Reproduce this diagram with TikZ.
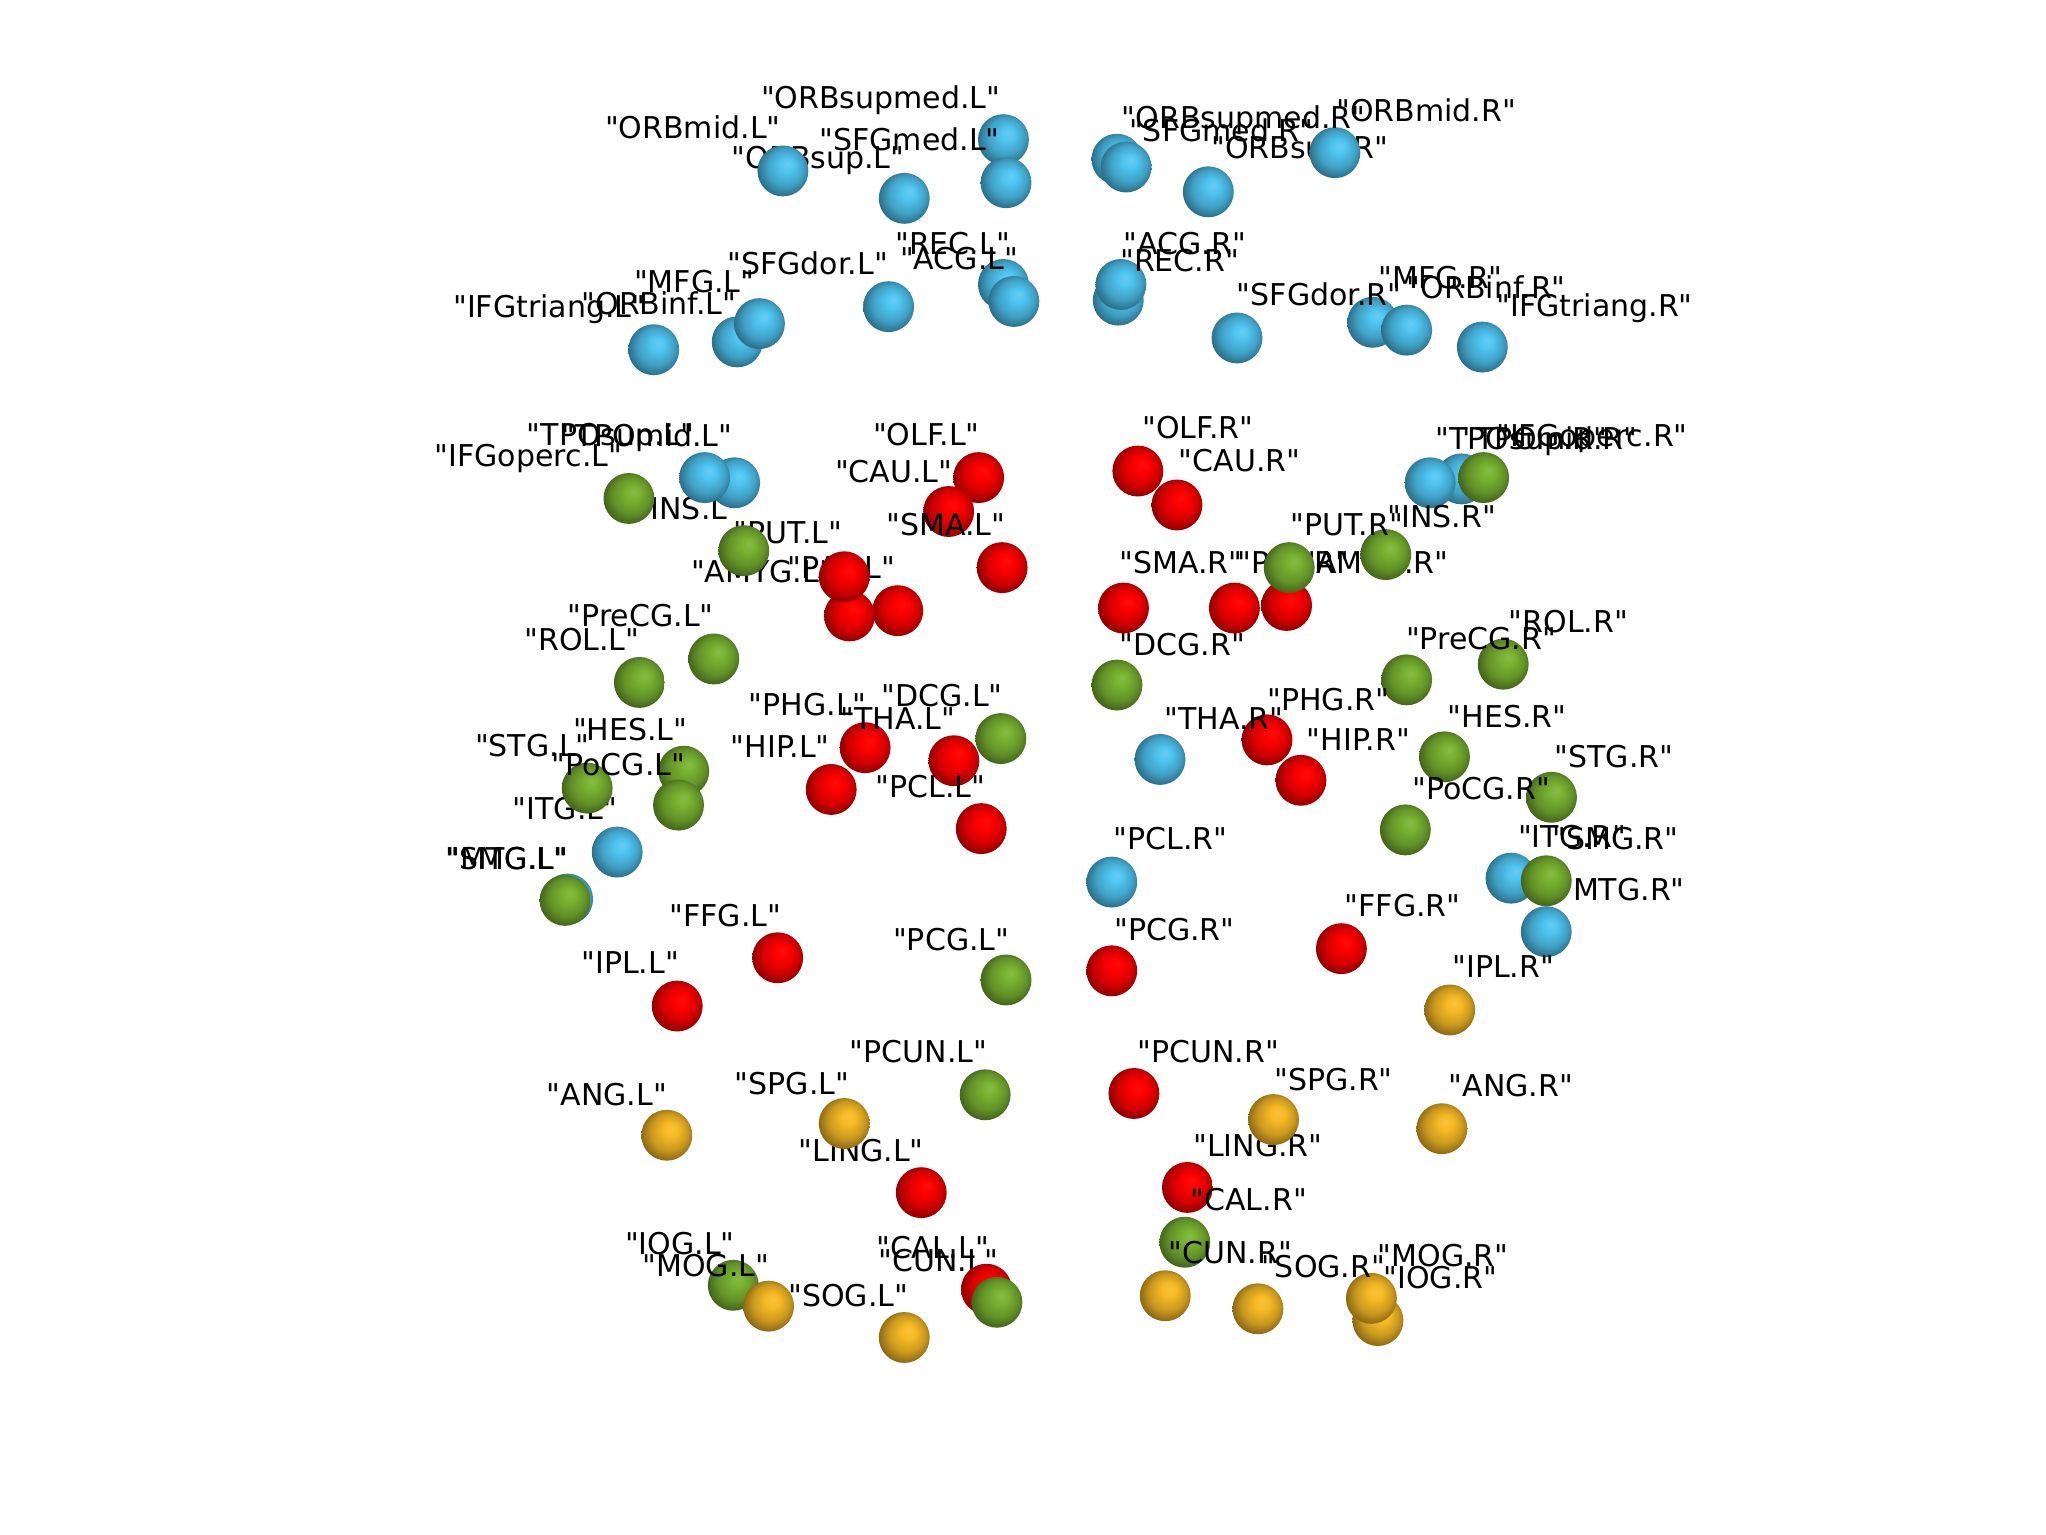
\documentclass[tikz,border=0pt]{standalone}
\usepackage{fontspec}
\newfontfamily\lblfont{DejaVu Sans}
\definecolor{cB}{RGB}{78,196,240}
\definecolor{cR}{RGB}{255,0,0}
\definecolor{cG}{RGB}{120,178,48}
\definecolor{cO}{RGB}{246,186,36}
\pgfdeclareradialshading{sphB}{\pgfpoint{5bp}{7bp}}{color(0bp)=(cB!85!white); color(7bp)=(cB); color(18bp)=(cB!82!black); color(27bp)=(cB!55!black); color(35bp)=(cB!35!black)}
\pgfdeclareradialshading{sphR}{\pgfpoint{5bp}{7bp}}{color(0bp)=(cR!95!white); color(7bp)=(cR); color(18bp)=(cR!82!black); color(27bp)=(cR!55!black); color(35bp)=(cR!35!black)}
\pgfdeclareradialshading{sphG}{\pgfpoint{5bp}{7bp}}{color(0bp)=(cG!88!white); color(7bp)=(cG); color(18bp)=(cG!82!black); color(27bp)=(cG!55!black); color(35bp)=(cG!35!black)}
\pgfdeclareradialshading{sphO}{\pgfpoint{5bp}{7bp}}{color(0bp)=(cO!88!white); color(7bp)=(cO); color(18bp)=(cO!82!black); color(27bp)=(cO!55!black); color(35bp)=(cO!35!black)}
\tikzset{
  ballbase/.style={circle,minimum size=39pt,inner sep=0pt},
  ballB/.style={ballbase,shading=sphB},
  ballR/.style={ballbase,shading=sphR},
  ballG/.style={ballbase,shading=sphG},
  ballO/.style={ballbase,shading=sphO},
  lbl/.style={font=\lblfont\fontsize{23pt}{27pt}\selectfont,inner sep=0pt,text height=16.8pt,text depth=0pt,anchor=center}
}
\begin{document}
\begin{tikzpicture}[x=1pt,y=-1pt]
\useasboundingbox (0,0) rectangle (1568,1176);
\fill[white] (0,0) rectangle (1568,1176);
% labels partly hidden behind spheres
\node[lbl] (ORBsupL) at (627,121) {"ORBsup.L"};
\node[lbl] (ORBsupR) at (996,113) {"ORBsup.R"};
\node[lbl] (INSL) at (528,390) {"INS.L"};
\node[lbl] (PUTL) at (604,408) {"PUT.L"};
\node[lbl] (AMYGL) at (584,438) {"AMYG.L"};
\node[lbl] (PALL) at (645,435) {"PAL.L"};
\node[lbl] (PALR) at (991,431) {"PAL.R"};
\node[lbl] (AMYGR) at (1054,431) {"AMYG.R"};
\node[lbl] (ITGL) at (433,620) {"ITG.L"};
\node[lbl] (MTGR) at (1243,682) {"MTG.R"};
\node[lbl] (LINGL) at (660,882) {"LING.L"};
\node[lbl] (LINGR) at (964,878) {"LING.R"};
\node[lbl] (IOGR) at (1104,979) {"IOG.R"};
\node[lbl] (CUNL) at (719,966) {"CUN.L"};
% spheres
\node[ballB] (s1) at (769,107) {};
\node[ballB] (s2) at (771,140) {};
\node[ballB] (s3) at (600,131) {};
\node[ballB] (s4) at (693,152) {};
\node[ballB] (s5) at (856,122) {};
\node[ballB] (s6) at (863,128) {};
\node[ballB] (s7) at (926,147) {};
\node[ballB] (s8) at (1023,117) {};
\node[ballB] (s9) at (769,218) {};
\node[ballB] (s10) at (777,231) {};
\node[ballB] (s11) at (681,235) {};
\node[ballB] (s12) at (565,262) {};
\node[ballB] (s13) at (582,248) {};
\node[ballB] (s14) at (501,268) {};
\node[ballB] (s15) at (857,230) {};
\node[ballB] (s16) at (859,218) {};
\node[ballB] (s17) at (948,259) {};
\node[ballB] (s18) at (1052,247) {};
\node[ballB] (s19) at (1078,253) {};
\node[ballB] (s20) at (1136,266) {};
\node[ballB] (s21) at (563,370) {};
\node[ballB] (s22) at (540,366) {};
\node[ballB] (s23) at (1120,367) {};
\node[ballB] (s24) at (1096,370) {};
\node[ballG] (s25) at (1137,366) {};
\node[ballG] (s26) at (482,382) {};
\node[ballG] (s27) at (570,422) {};
\node[ballR] (s28) at (750,366) {};
\node[ballR] (s29) at (727,392) {};
\node[ballR] (s30) at (768,435) {};
\node[ballR] (s31) at (688,468) {};
\node[ballR] (s32) at (651,472) {};
\node[ballR] (s33) at (647,442) {};
\node[ballR] (s34) at (872,361) {};
\node[ballR] (s35) at (902,387) {};
\node[ballR] (s36) at (861,466) {};
\node[ballR] (s37) at (946,466) {};
\node[ballR] (s38) at (986,464) {};
\node[ballG] (s39) at (988,435) {};
\node[ballG] (s40) at (1062,425) {};
\node[ballG] (s41) at (547,505) {};
\node[ballG] (s42) at (490,523) {};
\node[ballG] (s43) at (767,566) {};
\node[ballR] (s44) at (663,573) {};
\node[ballR] (s45) at (731,583) {};
\node[ballR] (s46) at (637,605) {};
\node[ballR] (s47) at (752,635) {};
\node[ballG] (s48) at (524,591) {};
\node[ballG] (s49) at (520,617) {};
\node[ballG] (s50) at (450,604) {};
\node[ballB] (s51) at (473,653) {};
\node[ballB] (s52) at (435,689) {};
\node[ballG] (s53) at (433,690) {};
\node[ballG] (s54) at (856,525) {};
\node[ballG] (s55) at (1078,521) {};
\node[ballG] (s56) at (1152,509) {};
\node[ballB] (s57) at (889,582) {};
\node[ballR] (s58) at (971,567) {};
\node[ballR] (s59) at (997,598) {};
\node[ballG] (s60) at (1107,580) {};
\node[ballG] (s61) at (1189,611) {};
\node[ballG] (s62) at (1077,636) {};
\node[ballB] (s63) at (852,676) {};
\node[ballB] (s64) at (1158,673) {};
\node[ballB] (s65) at (1185,714) {};
\node[ballG] (s66) at (1185,675) {};
\node[ballR] (s67) at (596,734) {};
\node[ballR] (s68) at (519,771) {};
\node[ballG] (s69) at (771,751) {};
\node[ballR] (s70) at (852,744) {};
\node[ballR] (s71) at (1028,727) {};
\node[ballO] (s72) at (1111,774) {};
\node[ballG] (s73) at (755,839) {};
\node[ballO] (s74) at (647,861) {};
\node[ballO] (s75) at (511,870) {};
\node[ballR] (s76) at (869,838) {};
\node[ballO] (s77) at (976,858) {};
\node[ballO] (s78) at (1105,865) {};
\node[ballR] (s79) at (706,914) {};
\node[ballR] (s80) at (910,910) {};
\node[ballG] (s81) at (908,952) {};
\node[ballG] (s82) at (562,985) {};
\node[ballO] (s83) at (589,1001) {};
\node[ballO] (s84) at (693,1025) {};
\node[ballR] (s85) at (756,988) {};
\node[ballG] (s86) at (764,998) {};
\node[ballO] (s87) at (893,993) {};
\node[ballO] (s88) at (964,1003) {};
\node[ballO] (s89) at (1056,1012) {};
\node[ballO] (s90) at (1051,995) {};
% labels in front
\node[lbl] (ORBsupmedL) at (675,75) {"ORBsupmed.L"};
\node[lbl] (ORBmidL) at (531,98) {"ORBmid.L"};
\node[lbl] (SFGmedL) at (697,107) {"SFGmed.L"};
\node[lbl] (RECL) at (730,187) {"REC.L"};
\node[lbl] (ACGL) at (735,198) {"ACG.L"};
\node[lbl] (SFGdorL) at (619,202) {"SFGdor.L"};
\node[lbl] (MFGL) at (532,216) {"MFG.L"};
\node[lbl] (ORBinfL) at (505,233) {"ORBinf.L"};
\node[lbl] (IFGtriangL) at (421,235) {"IFGtriang.L"};
\node[lbl] (TPOsupL) at (468,333) {"TPOsup.L"};
\node[lbl] (TPOmidL) at (496,334) {"TPOmid.L"};
\node[lbl] (IFGopercL) at (405,349) {"IFGoperc.L"};
\node[lbl] (OLFL) at (710,333) {"OLF.L"};
\node[lbl] (CAUL) at (685,361) {"CAU.L"};
\node[lbl] (SMAL) at (725,402) {"SMA.L"};
\node[lbl] (PreCGL) at (491,472) {"PreCG.L"};
\node[lbl] (ROLL) at (446,490) {"ROL.L"};
\node[lbl] (DCGL) at (722,533) {"DCG.L"};
\node[lbl] (PHGL) at (619,540) {"PHG.L"};
\node[lbl] (THAL) at (688,551) {"THA.L"};
\node[lbl] (HIPL) at (598,572) {"HIP.L"};
\node[lbl] (HESL) at (483,559) {"HES.L"};
\node[lbl] (STGL) at (408,571) {"STG.L"};
\node[lbl] (PoCGL) at (474,586) {"PoCG.L"};
\node[lbl] (SMGL) at (388,658) {"SMG.L"};
\node[lbl] (MTGL) at (389,658) {"MTG.L"};
\node[lbl] (PCLL) at (713,603) {"PCL.L"};
\node[lbl] (FFGL) at (556,702) {"FFG.L"};
\node[lbl] (PCGL) at (729,720) {"PCG.L"};
\node[lbl] (IPLL) at (483,738) {"IPL.L"};
\node[lbl] (PCUNL) at (704,806) {"PCUN.L"};
\node[lbl] (SPGL) at (607,830) {"SPG.L"};
\node[lbl] (ANGL) at (465,839) {"ANG.L"};
\node[lbl] (IOGL) at (521,953) {"IOG.L"};
\node[lbl] (MOGL) at (541,970) {"MOG.L"};
\node[lbl] (SOGL) at (650,993) {"SOG.L"};
\node[lbl] (CALL) at (715,956) {"CAL.L"};
\node[lbl] (ORBsupmedR) at (953,90) {"ORBsupmed.R"};
\node[lbl] (SFGmedR) at (936,100) {"SFGmed.R"};
\node[lbl] (ORBmidR) at (1093,85) {"ORBmid.R"};
\node[lbl] (ACGR) at (908,187) {"ACG.R"};
\node[lbl] (RECR) at (904,200) {"REC.R"};
\node[lbl] (SFGdorR) at (1011,226) {"SFGdor.R"};
\node[lbl] (MFGR) at (1104,213) {"MFG.R"};
\node[lbl] (ORBinfR) at (1139,220) {"ORBinf.R"};
\node[lbl] (IFGtriangR) at (1222,234) {"IFGtriang.R"};
\node[lbl] (OLFR) at (918,328) {"OLF.R"};
\node[lbl] (CAUR) at (950,353) {"CAU.R"};
\node[lbl] (TPOsupR) at (1166,336) {"TPOsup.R"};
\node[lbl] (TPOmidR) at (1188,336) {"TPOmid.R"};
\node[lbl] (IFGopercR) at (1220,334) {"IFGoperc.R"};
\node[lbl] (INSR) at (1105,396) {"INS.R"};
\node[lbl] (PUTR) at (1032,402) {"PUT.R"};
\node[lbl] (SMAR) at (905,431) {"SMA.R"};
\node[lbl] (DCGR) at (906,494) {"DCG.R"};
\node[lbl] (PreCGR) at (1135,489) {"PreCG.R"};
\node[lbl] (ROLR) at (1202,476) {"ROL.R"};
\node[lbl] (PHGR) at (1018,536) {"PHG.R"};
\node[lbl] (THAR) at (938,551) {"THA.R"};
\node[lbl] (HIPR) at (1041,567) {"HIP.R"};
\node[lbl] (HESR) at (1155,549) {"HES.R"};
\node[lbl] (STGR) at (1237,580) {"STG.R"};
\node[lbl] (PoCGR) at (1135,604) {"PoCG.R"};
\node[lbl] (ITGR) at (1205,641) {"ITG.R"};
\node[lbl] (SMGR) at (1238,643) {"SMG.R"};
\node[lbl] (PCLR) at (897,643) {"PCL.R"};
\node[lbl] (FFGR) at (1075,694) {"FFG.R"};
\node[lbl] (PCGR) at (900,712) {"PCG.R"};
\node[lbl] (IPLR) at (1152,741) {"IPL.R"};
\node[lbl] (PCUNR) at (926,806) {"PCUN.R"};
\node[lbl] (SPGR) at (1022,827) {"SPG.R"};
\node[lbl] (ANGR) at (1158,832) {"ANG.R"};
\node[lbl] (CALR) at (957,919) {"CAL.R"};
\node[lbl] (CUNR) at (943,960) {"CUN.R"};
\node[lbl] (SOGR) at (1014,971) {"SOG.R"};
\node[lbl] (MOGR) at (1106,962) {"MOG.R"};
\end{tikzpicture}
\end{document}
